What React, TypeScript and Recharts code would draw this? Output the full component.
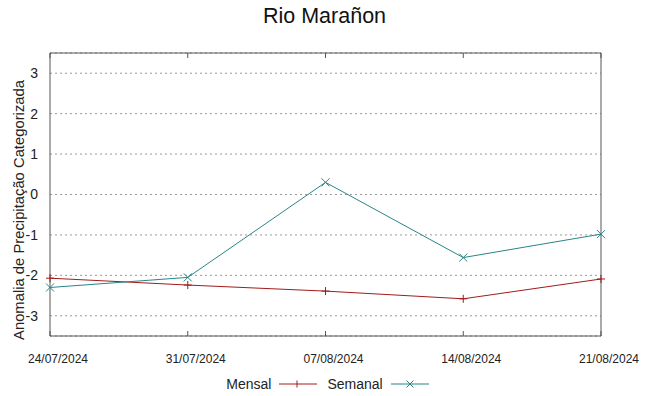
import React from "react";
import { LineChart, Line, XAxis, YAxis, CartesianGrid, ReferenceArea, Legend } from "recharts";

const dates = ["24/07/2024", "31/07/2024", "07/08/2024", "14/08/2024", "21/08/2024"];
const mensal = [-2.07, -2.24, -2.39, -2.58, -2.09];
const semanal = [-2.3, -2.05, 0.3, -1.56, -0.98];
const yTicks = [-3, -2, -1, 0, 1, 2, 3];

const RED = "#a01c1c";
const TEAL = "#2a8585";
const FONT = "'Liberation Sans', Arial, sans-serif";

const data = dates.map((d, i) => ({ date: d, mensal: mensal[i], semanal: semanal[i] }));

const PlusDot = (props: any) => {
  const { cx, cy } = props;
  if (cx == null || cy == null) return null;
  return (
    <path d={`M${cx - 4},${cy}H${cx + 4}M${cx},${cy - 4}V${cy + 4}`} stroke={RED} strokeWidth={1} fill="none" />
  );
};

const CrossDot = (props: any) => {
  const { cx, cy } = props;
  if (cx == null || cy == null) return null;
  return (
    <path d={`M${cx - 4},${cy - 4}L${cx + 4},${cy + 4}M${cx - 4},${cy + 4}L${cx + 4},${cy - 4}`} stroke={TEAL} strokeWidth={1} fill="none" />
  );
};

const LegendContent = () => (
  <div style={{ display: "flex", justifyContent: "center", alignItems: "center", fontFamily: FONT, fontSize: 14, color: "#222", height: 24, paddingLeft: 58 }}>
    <span>Mensal</span>
    <svg width={46} height={12} style={{ marginLeft: 4 }}>
      <path d="M4,6H42M22,2.5V9.5" stroke={RED} strokeWidth={1} fill="none" />
    </svg>
    <span style={{ marginLeft: 6 }}>Semanal</span>
    <svg width={46} height={12} style={{ marginLeft: 4 }}>
      <path d="M4,6H42M19.5,2.5L26.5,9.5M19.5,9.5L26.5,2.5" stroke={TEAL} strokeWidth={1} fill="none" />
    </svg>
  </div>
);

const NoTick = () => <g />;

export default function App() {
  return (
    <div style={{ position: "absolute", left: 0, top: 0, width: 649, height: 396, background: "#fff" }}>
      <div style={{ position: "absolute", left: 0, top: 4, width: 649, textAlign: "center", fontFamily: FONT, fontSize: 21.5, color: "#111" }}>
        Rio Marañon
      </div>
      <LineChart width={649} height={396} data={data} margin={{ top: 53, right: 48, bottom: 0, left: 0 }}>
        <CartesianGrid horizontal vertical={false} stroke="#999" strokeDasharray="2 3" />
        <XAxis
          dataKey="date"
          height={36}
          tickLine={false}
          axisLine={false}
          tickMargin={12}
          tick={{ fontFamily: FONT, fontSize: 12, fill: "#222", dx: 8 }}
          interval={0}
        />
        <XAxis xAxisId="mb" dataKey="date" orientation="bottom" mirror axisLine={false} tickLine={{ stroke: "#555" }} tickSize={5} tick={<NoTick />} interval={0} />
        <XAxis xAxisId="mt" dataKey="date" orientation="top" mirror axisLine={false} tickLine={{ stroke: "#555" }} tickSize={5} tick={<NoTick />} interval={0} />
        <YAxis
          width={50}
          domain={[-3.5, 3.5]}
          ticks={yTicks}
          type="number"
          tickLine={false}
          axisLine={false}
          tickMargin={6}
          tick={{ fontFamily: FONT, fontSize: 14, fill: "#222" }}
        />
        <YAxis yAxisId="ml" orientation="left" mirror type="number" domain={[-3.5, 3.5]} ticks={yTicks} axisLine={false} tickLine={{ stroke: "#555" }} tickSize={5} tick={<NoTick />} />
        <YAxis yAxisId="mr" orientation="right" mirror type="number" domain={[-3.5, 3.5]} ticks={yTicks} axisLine={false} tickLine={{ stroke: "#555" }} tickSize={5} tick={<NoTick />} />
        <ReferenceArea x1={dates[0]} x2={dates[dates.length - 1]} y1={-3.5} y2={3.5} fill="none" stroke="#555" strokeWidth={1} ifOverflow="visible" />
        <Line type="linear" dataKey="mensal" stroke={RED} strokeWidth={1} dot={<PlusDot />} activeDot={false} isAnimationActive={false} />
        <Line type="linear" dataKey="semanal" stroke={TEAL} strokeWidth={1} dot={<CrossDot />} activeDot={false} isAnimationActive={false} />
        <Legend verticalAlign="bottom" height={24} content={<LegendContent />} />
      </LineChart>
      <svg width={40} height={396} style={{ position: "absolute", left: 0, top: 0, pointerEvents: "none" }}>
        <text x={19} y={210} transform="rotate(-90, 19, 210)" textAnchor="middle" dominantBaseline="central" fontFamily={FONT} fontSize={14.8} fill="#222">
          Anomalia de Precipitação Categorizada
        </text>
      </svg>
    </div>
  );
}
